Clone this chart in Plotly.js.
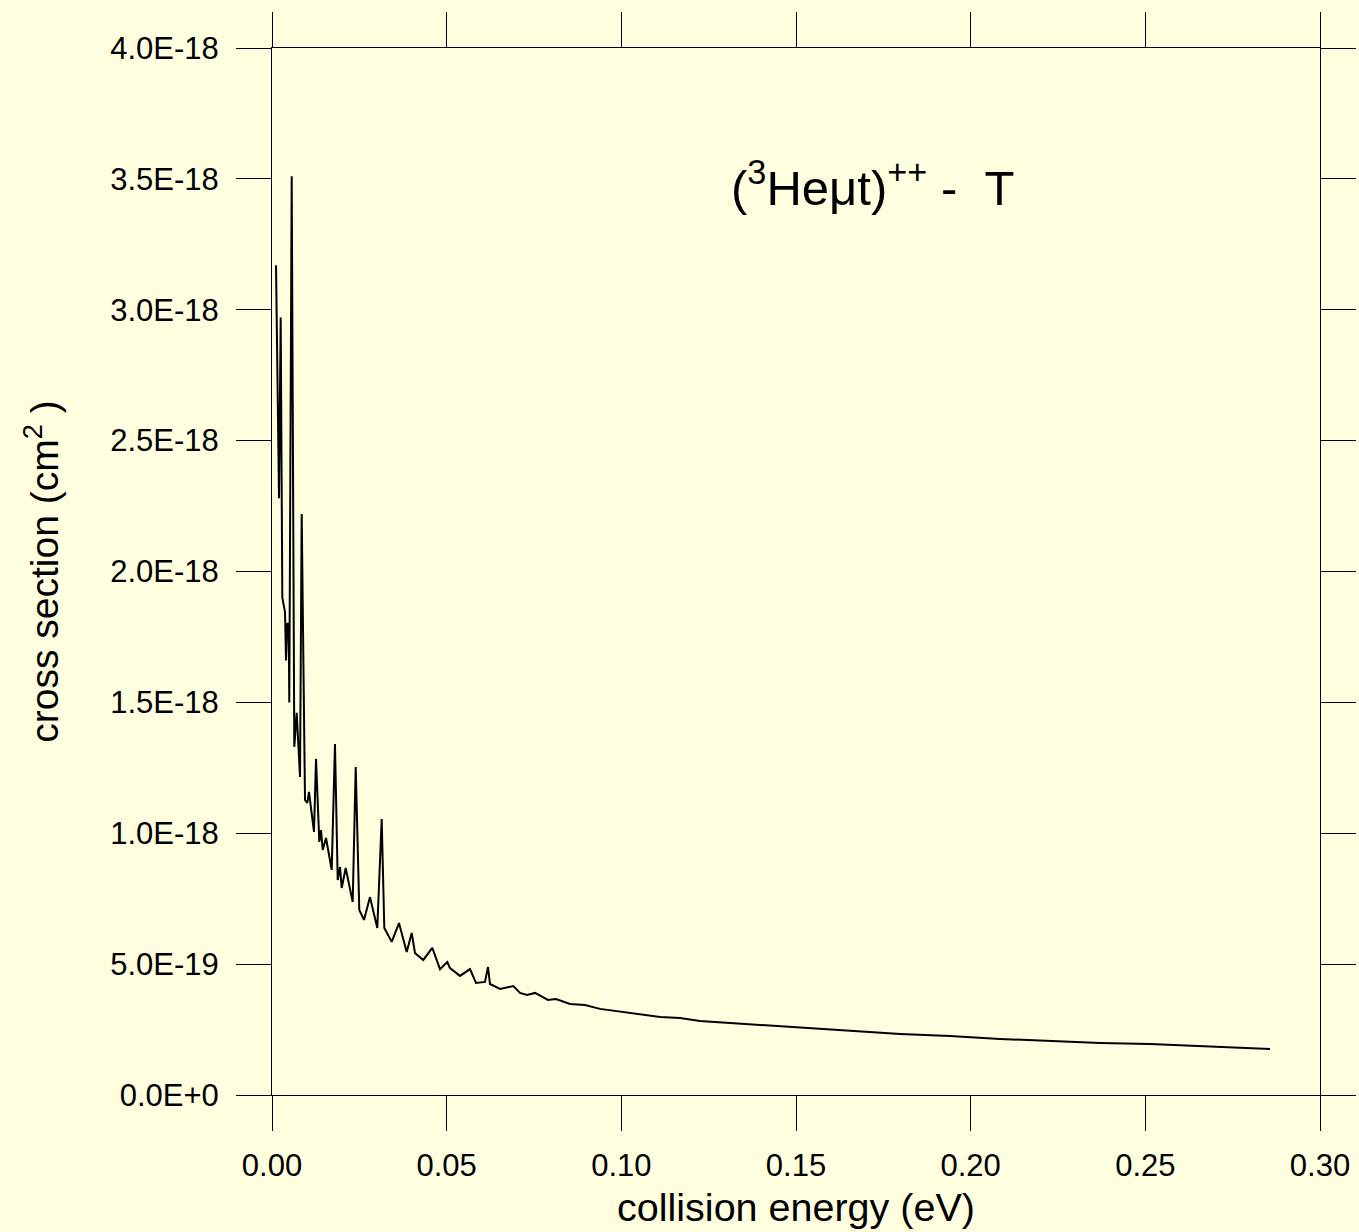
<!DOCTYPE html>
<html>
<head>
<meta charset="utf-8">
<script src="https://cdn.plot.ly/plotly-3.0.1.min.js"></script>
<style>
  html, body { margin: 0; padding: 0; background: #ffffe0; }
  #chart { width: 1359px; height: 1232px; }
</style>
</head>
<body>
<div id="chart"></div>
<script>
// collision energy (eV)
const energy = [
  0.00115, 0.00200, 0.00249, 0.00295, 0.00372, 0.00401, 0.00438, 0.00478, 0.00495, 0.00564,
  0.00638, 0.00707, 0.00802, 0.00850, 0.00945, 0.01010, 0.01059, 0.01202, 0.01260, 0.01354,
  0.01403, 0.01451, 0.01546, 0.01709, 0.01803, 0.01881, 0.01947, 0.01995, 0.02110, 0.02310,
  0.02396, 0.02499, 0.02634, 0.02805, 0.03014, 0.03140, 0.03215, 0.03349, 0.03427, 0.03635,
  0.03856, 0.03999, 0.04094, 0.04331, 0.04589, 0.04809, 0.05018, 0.05095, 0.05382, 0.05668,
  0.05840, 0.06097, 0.06183, 0.06240, 0.06527, 0.06908, 0.07100, 0.07300, 0.07530, 0.07900,
  0.08130, 0.08530, 0.08960, 0.09390, 0.09820, 0.10530, 0.11110, 0.11680, 0.12250, 0.13110,
  0.13970, 0.15110, 0.16550, 0.17980, 0.19410, 0.20840, 0.22270, 0.23700, 0.25130, 0.26570,
  0.28570
];
// cross section (cm^2)
const crossSection = [
  3.17e-18, 2.28e-18, 2.97e-18, 1.90e-18, 1.845e-18, 1.66e-18, 1.80e-18, 1.80e-18, 1.50e-18, 3.51e-18,
  1.33e-18, 1.46e-18, 1.215e-18, 2.22e-18, 1.127e-18, 1.116e-18, 1.158e-18, 1.005e-18, 1.284e-18, 0.967e-18,
  1.012e-18, 0.936e-18, 0.982e-18, 0.860e-18, 1.341e-18, 0.821e-18, 0.871e-18, 0.791e-18, 0.867e-18, 0.737e-18,
  1.253e-18, 0.707e-18, 0.669e-18, 0.756e-18, 0.638e-18, 1.054e-18, 0.638e-18, 0.604e-18, 0.585e-18, 0.657e-18,
  0.546e-18, 0.619e-18, 0.542e-18, 0.516e-18, 0.562e-18, 0.481e-18, 0.508e-18, 0.485e-18, 0.455e-18, 0.481e-18,
  0.428e-18, 0.432e-18, 0.489e-18, 0.424e-18, 0.405e-18, 0.416e-18, 0.390e-18, 0.382e-18, 0.390e-18, 0.363e-18,
  0.367e-18, 0.348e-18, 0.344e-18, 0.329e-18, 0.321e-18, 0.309e-18, 0.298e-18, 0.294e-18, 0.283e-18, 0.275e-18,
  0.267e-18, 0.256e-18, 0.245e-18, 0.233e-18, 0.225e-18, 0.214e-18, 0.206e-18, 0.199e-18, 0.195e-18, 0.187e-18,
  0.176e-18
];

const xTickVals = [0, 0.05, 0.10, 0.15, 0.20, 0.25, 0.30];
const xTickText = ['0.00', '0.05', '0.10', '0.15', '0.20', '0.25', '0.30'];
const yTickVals = [0, 0.5e-18, 1.0e-18, 1.5e-18, 2.0e-18, 2.5e-18, 3.0e-18, 3.5e-18, 4.0e-18];
const yTickText = ['0.0E+0', '5.0E-19', '1.0E-18', '1.5E-18', '2.0E-18', '2.5E-18', '3.0E-18', '3.5E-18', '4.0E-18'];

const FONT = '"Liberation Sans", Arial, Helvetica, sans-serif';
const BG = '#ffffe0';

const trace = {
  x: energy,
  y: crossSection,
  type: 'scatter',
  mode: 'lines',
  line: { color: '#000000', width: 2 },
  hoverinfo: 'x+y'
};

const axisCommon = {
  showline: true,
  linecolor: '#000000',
  linewidth: 1,
  mirror: 'ticks',
  ticks: 'outside',
  ticklen: 35,
  tickwidth: 1,
  tickcolor: '#000000',
  showgrid: false,
  zeroline: false,
  tickmode: 'array',
  tickfont: { family: FONT, size: 31, color: '#000000' }
};

const layout = {
  width: 1359,
  height: 1232,
  margin: { l: 272, r: 39, t: 48, b: 137 },
  paper_bgcolor: BG,
  plot_bgcolor: BG,
  showlegend: false,
  font: { family: FONT, color: '#000000' },
  xaxis: Object.assign({}, axisCommon, {
    range: [0, 0.30],
    tickvals: xTickVals,
    ticktext: xTickText,
    ticklabelstandoff: 8,
    title: { text: 'collision energy (eV)', font: { family: FONT, size: 39.5, color: '#000000' }, standoff: 11 }
  }),
  yaxis: Object.assign({}, axisCommon, {
    range: [0, 4.0e-18],
    tickvals: yTickVals,
    ticktext: yTickText,
    ticklabelstandoff: 11,
    title: { text: 'cross section (cm<sup>2</sup> )', font: { family: FONT, size: 39, color: '#000000' }, standoff: 39 }
  }),
  annotations: [{
    xref: 'x', yref: 'y',
    x: 0.1308, y: 3.48e-18,
    xanchor: 'left', yanchor: 'middle',
    text: '(<sup>3</sup>Heμt)<sup>++</sup> -\u00a0\u00a0T',
    showarrow: false,
    font: { family: FONT, size: 49, color: '#000000' }
  }]
};

Plotly.newPlot('chart', [trace], layout, { displayModeBar: false, staticPlot: true });
</script>
</body>
</html>
